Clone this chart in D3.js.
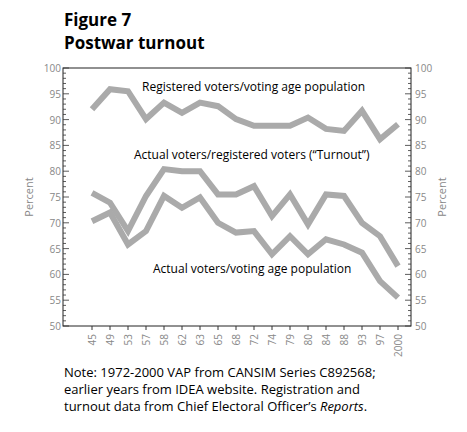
<!DOCTYPE html>
<html><head><meta charset="utf-8">
<script src="https://cdn.jsdelivr.net/npm/d3@7"></script>
<style>body{margin:0;background:#fff;font-family:"Open Sans",sans-serif}</style>
</head><body><div id="chart"></div>
<script>
const years = ['45','49','53','57','58','62','63','65','68','72','74','79','80','84','88','93','97','2000'];
const registered = [92.0,95.9,95.5,90.1,93.3,91.3,93.3,92.6,90.1,88.8,88.8,88.8,90.4,88.2,87.8,91.7,86.2,89.1];
const turnout = [75.8,73.9,68.4,75.2,80.4,80.0,80.0,75.5,75.5,77.1,71.3,75.5,69.7,75.5,75.2,70.0,67.4,61.6];
const vapTurnout = [70.3,72.0,65.8,68.4,75.2,72.9,74.9,70.0,68.1,68.4,63.9,67.4,63.9,66.8,65.8,64.2,58.7,55.5];
const yTicks = [50,55,60,65,70,75,80,85,90,95,100];

const svg = d3.select('#chart').append('svg').attr('width', 467).attr('height', 432);

svg.append('text').attr('x', 64).attr('y', 26).text('Figure 7')
    .style('font-weight', 'bold').style('font-size', '17px');
svg.append('text').attr('x', 64).attr('y', 49).text('Postwar turnout')
    .style('font-weight', 'bold').style('font-size', '17px');

const pLeft = 63, pRight = 411, pTop = 68, pBottom = 326;
const x = d3.scalePoint().domain(years).range([92, 398]);
const y = d3.scaleLinear().domain([50, 100]).range([pBottom, pTop]);

// frame
svg.append('rect').attr('x', pLeft).attr('y', pTop).attr('width', pRight - pLeft).attr('height', pBottom - pTop)
    .attr('fill', 'none').attr('stroke', '#222').attr('stroke-width', 1);

// minor ticks
const minor = d3.range(50, 101);
svg.selectAll('.ml').data(minor).enter().append('line')
    .attr('x1', pLeft).attr('x2', d => pLeft + (d % 5 === 0 ? 6 : 3))
    .attr('y1', d => y(d)).attr('y2', d => y(d)).attr('stroke', '#333').attr('stroke-width', 0.8);
svg.selectAll('.mr').data(minor).enter().append('line')
    .attr('x1', pRight).attr('x2', d => pRight - (d % 5 === 0 ? 6 : 3))
    .attr('y1', d => y(d)).attr('y2', d => y(d)).attr('stroke', '#333').attr('stroke-width', 0.8);

svg.selectAll('.ll').data(yTicks).enter().append('text')
    .attr('x', pLeft - 2).attr('y', d => y(d) + 4).attr('text-anchor', 'end')
    .style('font-size', '10px').attr('fill', '#888').text(d => d);
svg.selectAll('.rl').data(yTicks).enter().append('text')
    .attr('x', pRight + 4).attr('y', d => y(d) + 4)
    .style('font-size', '10px').attr('fill', '#888').text(d => d);

// x ticks
svg.selectAll('.xt').data(years).enter().append('line')
    .attr('x1', d => x(d)).attr('x2', d => x(d)).attr('y1', pBottom).attr('y2', pBottom + 4)
    .attr('stroke', '#333');
svg.selectAll('.xl').data(years).enter().append('text')
    .attr('transform', d => `translate(${x(d) + 4},${pBottom + 8}) rotate(-90)`)
    .attr('text-anchor', 'end').style('font-size', '10px').attr('fill', '#888').text(d => d);

svg.append('text').attr('transform', `translate(33,${(pTop + pBottom) / 2}) rotate(-90)`)
    .attr('text-anchor', 'middle').style('font-size', '11px').attr('fill', '#888').text('Percent');
svg.append('text').attr('transform', `translate(446,${(pTop + pBottom) / 2}) rotate(-90)`)
    .attr('text-anchor', 'middle').style('font-size', '11px').attr('fill', '#888').text('Percent');

const line = d3.line().x((d, i) => x(years[i])).y(d => y(d));
[registered, turnout, vapTurnout].forEach(s => {
    svg.append('path').datum(s).attr('d', line).attr('fill', 'none')
        .attr('stroke', '#aaa').attr('stroke-width', 6).attr('stroke-linejoin', 'miter');
});

const lab = [['Registered voters/voting age population', 142, 91],
    ['Actual voters/registered voters (\u201cTurnout\u201d)', 134, 159],
    ['Actual voters/voting age population', 153, 273]];
lab.forEach(l => svg.append('text').attr('x', l[1]).attr('y', l[2]).style('font-size', '12px').text(l[0]));

const note = svg.append('text').style('font-size', '13px');
note.append('tspan').attr('x', 64).attr('y', 377).text('Note: 1972-2000 VAP from CANSIM Series C892568;');
note.append('tspan').attr('x', 64).attr('y', 394).text('earlier years from IDEA website. Registration and');
const t3 = note.append('tspan').attr('x', 64).attr('y', 411);
t3.append('tspan').text('turnout data from Chief Electoral Officer\u2019s ');
t3.append('tspan').style('font-style', 'italic').text('Reports');
t3.append('tspan').text('.');
</script></body></html>
